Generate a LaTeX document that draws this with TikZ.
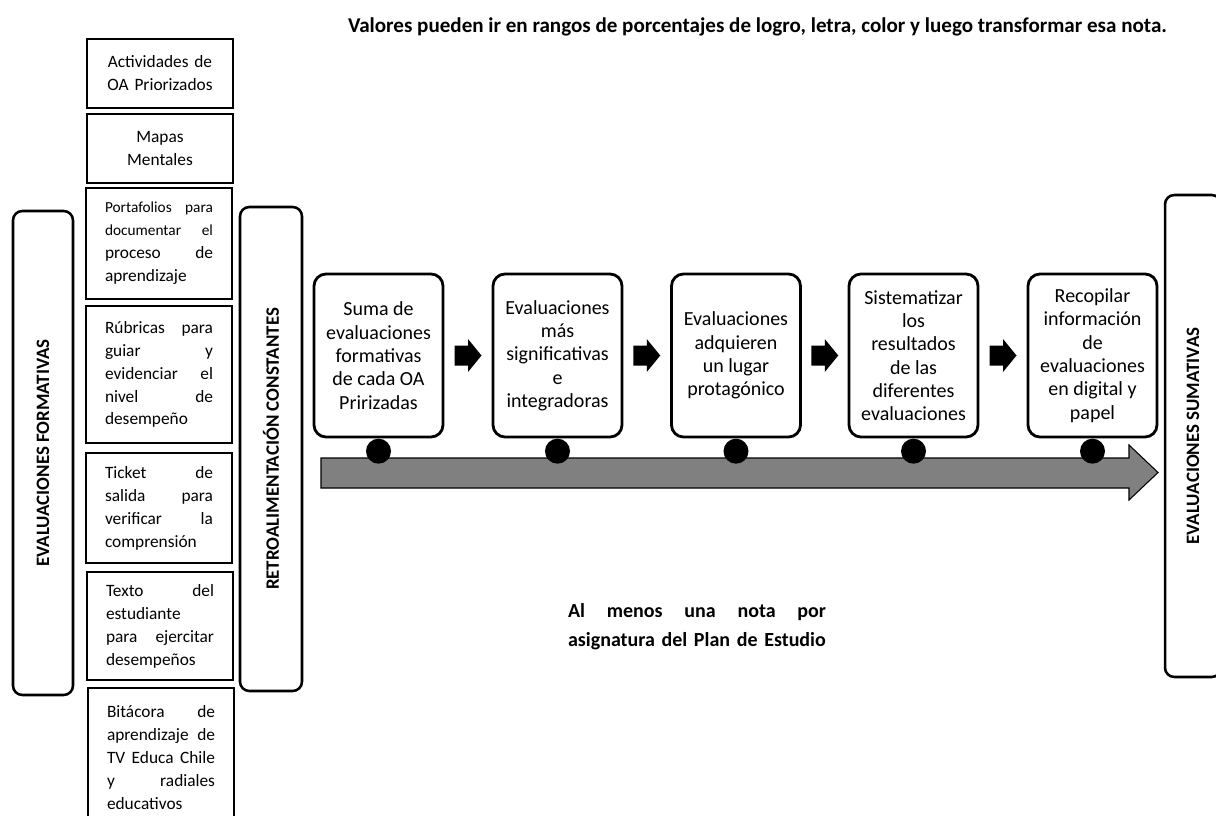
\documentclass[tikz,border=0pt]{standalone}
\usepackage{fontspec}
\setmainfont{Carlito}
\usetikzlibrary{calc}

\newcommand\smallfnt{\fontsize{11.5}{17}\selectfont}

\tikzset{
  listbox/.style={draw, line width=2.2pt, minimum width=109.5pt, text width=81pt,
    inner sep=0pt, align=left, font=\fontsize{13}{17.2}\selectfont},
  sidebox/.style={draw, line width=1.9pt, rounded corners=7pt, rotate=90,
    font=\fontsize{14.2}{16}\selectfont\bfseries},
  stepbox/.style={draw, line width=2.1pt, rounded corners=9pt, minimum width=96.75pt,
    minimum height=122.25pt, inner sep=0pt, align=center, font=\fontsize{15}{17.5}\selectfont},
  bead/.style={circle, fill=black, minimum size=18.75pt, inner sep=0pt},
  pics/blk/.style={code={
    \fill (-13.5,-10) -- (0,-10) -- (0,-16.5) -- (13.5,0) -- (0,16.5) -- (0,10) -- (-13.5,10) -- cycle;}}
}

\begin{document}
\begin{tikzpicture}[x=0.75pt, y=-0.75pt]
  \useasboundingbox (0,0) rectangle (1216,816);

  % note on top
  \node[font=\fontsize{15.8}{18}\selectfont\bfseries] (note) at (757.5,27)
    {Valores pueden ir en rangos de porcentajes de logro, letra, color y luego transformar esa nota.};

  % column of formative activities
  \node[listbox, align=center, text width=105pt, minimum height=51.75pt] (l1) at (160,73.5) {Actividades de\\OA Priorizados};
  \node[listbox, align=center, text width=105pt, minimum height=51.75pt] (l2) at (160,148.5) {Mapas\\Mentales};
  \node[listbox, minimum height=83.25pt] (l3) at (159,243.5)
    {{\smallfnt Portafolios\hfill para}\\{\smallfnt documentar\hfill el}\\proceso\hfill de\\aprendizaje};
  \node[listbox, minimum height=102.75pt] (l4) at (159,374.5)
    {Rúbricas\hfill para\\guiar\hfill y\\evidenciar\hfill el\\nivel\hfill de\\desempeño};
  \node[listbox, minimum height=82.5pt] (l5) at (159,508)
    {Ticket\hfill de\\salida\hfill para\\verificar\hfill la\\comprensión};
  \node[listbox, minimum height=81pt] (l6) at (160,626)
    {Texto\hfill del\\estudiante\\para\hfill ejercitar\\desempeños};
  \node[listbox, minimum height=104.25pt] (l7) at (161,757.5)
    {Bitácora\hfill de\\aprendizaje\hfill de\\TV\hfill Educa\hfill Chile\\y\hfill radiales\\educativos};

  % side labels
  \node[sidebox, minimum width=363pt, minimum height=45pt] (evf) at (43,453) {EVALUACIONES FORMATIVAS};
  \node[sidebox, minimum width=363pt, minimum height=46.5pt] (ret) at (271,449) {RETROALIMENTACIÓN CONSTANTES};
  \node[sidebox, minimum width=361.5pt, minimum height=42pt] (evs) at (1193,436) {EVALUACIONES SUMATIVAS};

  % steps
  \node[stepbox] (p1) at (378.5,355.5) {Suma de\\evaluaciones\\formativas\\de cada OA\\Pririzadas};
  \node[stepbox] (p2) at (557.5,355.5) {Evaluaciones\\más\\significativas\\e\\integradoras};
  \node[stepbox] (p3) at (736,355.5) {Evaluaciones\\adquieren\\un lugar\\protagónico};
  \node[stepbox] (p4) at (913.5,355.5) {Sistematizar\\los\\resultados\\de las\\diferentes\\evaluaciones};
  \node[stepbox] (p5) at (1092.5,355.5) {Recopilar\\información\\de\\evaluaciones\\en digital y\\papel};

  \foreach \a/\b in {p1/p2, p2/p3, p3/p4, p4/p5}
    \pic at ($(\a.east)!0.5!(\b.west)$) {blk};

  % timeline
  \draw[line width=0.8pt, fill=black!50] (321,458) -- (1129,458) -- (1129,445) -- (1158,472.5)
    -- (1129,500) -- (1129,488) -- (321,488) -- cycle;
  \foreach \p in {p1, p2, p3, p4, p5}
    \node[bead, anchor=north] (\p-bead) at (\p.south) {};

  \node[font=\fontsize{15}{21.75}\selectfont\bfseries, text width=193.5pt, align=left, inner sep=0pt] (plan) at (697,627)
    {Al\hfill menos\hfill una\hfill nota\hfill por\\asignatura del Plan de Estudio};
\end{tikzpicture}
\end{document}
